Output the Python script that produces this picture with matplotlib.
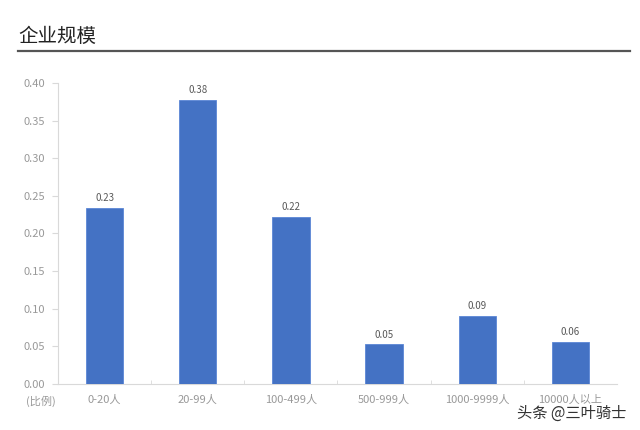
import numpy as np
import matplotlib
matplotlib.use('Agg')
import matplotlib.pyplot as plt
from matplotlib.lines import Line2D

plt.rcParams['font.family'] = ['Noto Sans CJK SC', 'DejaVu Sans']

categories = ['0-20人', '20-99人', '100-499人', '500-999人', '1000-9999人', '10000人以上']
values = [0.234, 0.378, 0.222, 0.053, 0.091, 0.056]
yticks = [0.00, 0.05, 0.10, 0.15, 0.20, 0.25, 0.30, 0.35, 0.40]

fig = plt.figure(figsize=(6.4, 4.3), dpi=100, facecolor='white')
ax = fig.add_axes([0.0906, 0.107, 0.8734, 0.700])

x = np.arange(len(categories))
bars = ax.bar(x, values, width=0.4, color='#4472C4', edgecolor='#5B86D6', linewidth=0.6, zorder=3)
for b, v in zip(bars, values):
    ax.text(b.get_x() + b.get_width() / 2, v + 0.006, f'{v:.2f}', ha='center', va='bottom',
            fontsize=7, color='#595959')

ax.set_xlim(-0.5, len(categories) - 0.5)
ax.set_ylim(0, 0.40)
ax.set_yticks(yticks)
ax.set_yticklabels([f'{t:.2f}' for t in yticks], fontsize=8, color='#999999')
ax.set_xticks(x)
ax.set_xticklabels(categories, fontsize=8, color='#999999')
ax.tick_params(axis='x', length=0, pad=8)
ax.tick_params(axis='y', length=4, color='#d9d9d9', pad=5, direction='out')
ax.set_xticks(np.arange(0.5, len(categories) - 1, 1.0), minor=True)
ax.tick_params(axis='x', which='minor', length=3, direction='in', color='#d9d9d9')

for s in ('top', 'right'):
    ax.spines[s].set_visible(False)
ax.spines['left'].set_color('#d9d9d9')
ax.spines['bottom'].set_color('#d9d9d9')

fig.text(0.064, 0.066, '(比例)', ha='center', va='center', fontsize=8, color='#999999')

fig.text(0.028, 0.915, '企业规模', ha='left', va='center', fontsize=14, color='#222222')
fig.add_artist(Line2D([0.028, 0.984], [0.881, 0.881], color='#555555', lw=1.6,
                      transform=fig.transFigure))

fig.text(0.978, 0.040, '头条 @三叶骑士', ha='right', va='center', fontsize=11, color='#333333')

fig.savefig('out.png', dpi=100, facecolor='white')
